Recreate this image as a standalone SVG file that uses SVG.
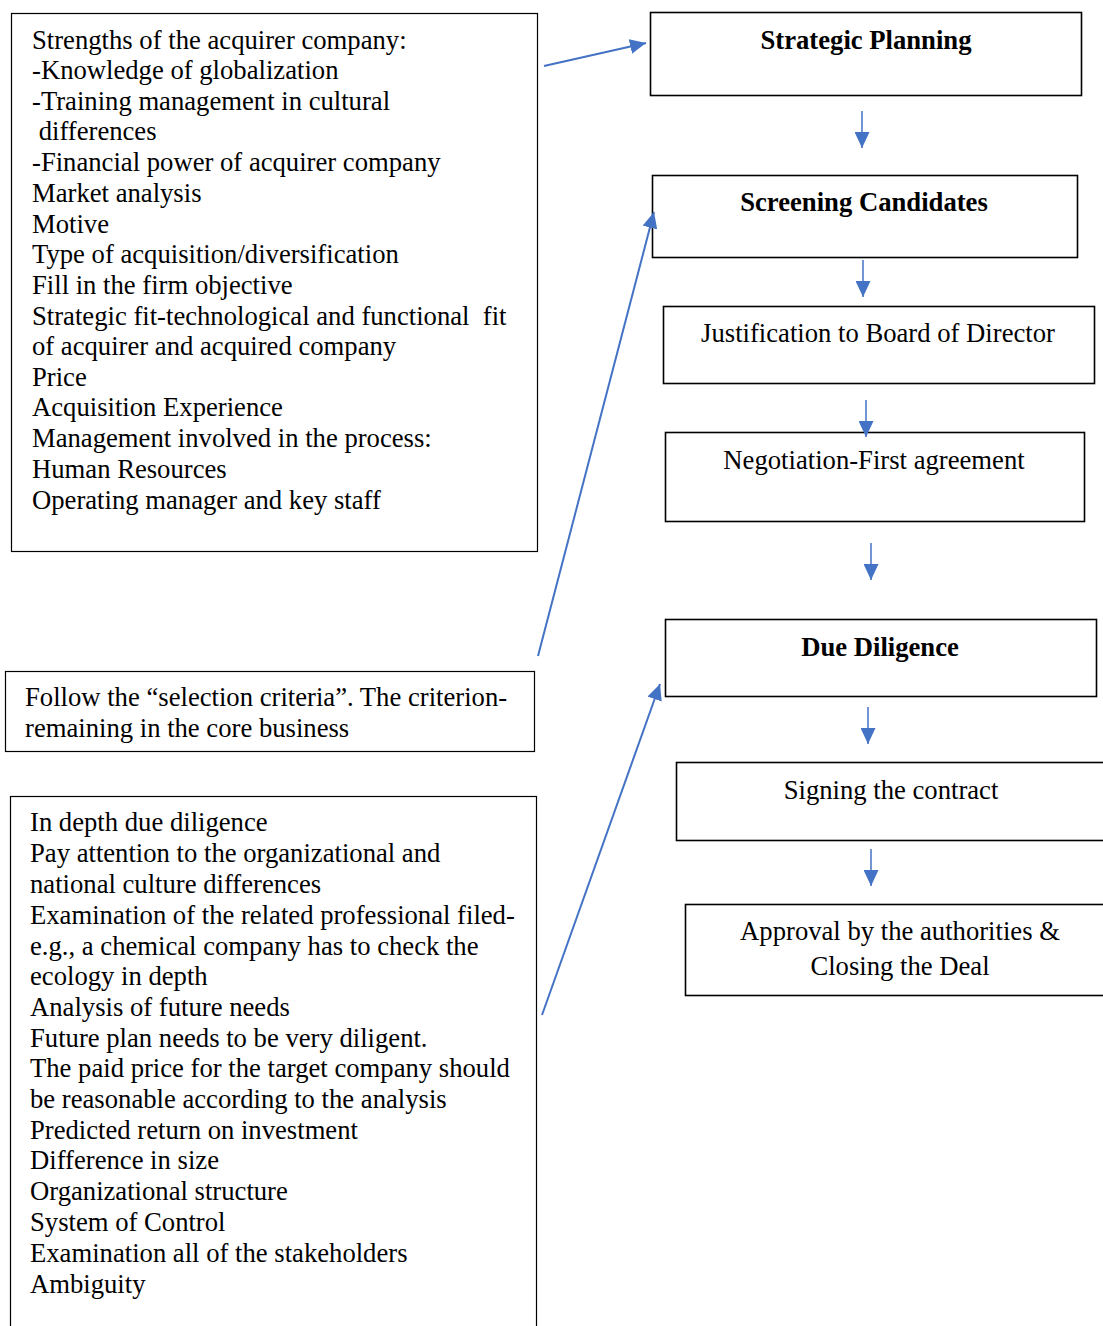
<svg xmlns="http://www.w3.org/2000/svg" width="1103" height="1326" viewBox="0 0 1103 1326">
<style>
.t{font-family:"Liberation Serif","Times New Roman",serif;font-size:26.67px;fill:#000;white-space:pre}
.b{font-weight:bold}
.c{text-anchor:middle}
.bx{fill:#fff;stroke:#000;stroke-width:1.6}
.lb{fill:#fff;stroke:#000;stroke-width:1.2}
.ar{stroke:#4472C4;fill:none;stroke-width:1.5}
.ad{stroke:#4472C4;fill:none;stroke-width:2}
</style>
<defs>
<marker id="ah" markerUnits="userSpaceOnUse" markerWidth="16" markerHeight="15" refX="16" refY="7.5" orient="auto">
<path d="M0,0 L16,7.5 L0,15 z" fill="#4472C4"/>
</marker>
</defs>
<rect width="1103" height="1326" fill="#fff"/>
<g id="strengths">
<rect class="lb" x="11.5" y="13.5" width="526" height="538"/>
<text class="t" x="32" y="49">Strengths of the acquirer company:</text>
<text class="t" x="32" y="79">-Knowledge of globalization</text>
<text class="t" x="32" y="110">-Training management in cultural</text>
<text class="t" x="32" y="140"> differences</text>
<text class="t" x="32" y="171">-Financial power of acquirer company</text>
<text class="t" x="32" y="202">Market analysis</text>
<text class="t" x="32" y="233">Motive</text>
<text class="t" x="32" y="263">Type of acquisition/diversification</text>
<text class="t" x="32" y="294">Fill in the firm objective</text>
<text class="t" x="32" y="325">Strategic fit-technological and functional  fit</text>
<text class="t" x="32" y="355">of acquirer and acquired company</text>
<text class="t" x="32" y="386">Price</text>
<text class="t" x="32" y="416">Acquisition Experience</text>
<text class="t" x="32" y="447">Management involved in the process:</text>
<text class="t" x="32" y="478">Human Resources</text>
<text class="t" x="32" y="509">Operating manager and key staff</text>
</g>
<g id="selection">
<rect class="lb" x="5.5" y="671.5" width="529" height="80"/>
<text class="t" x="25" y="706">Follow the “selection criteria”. The criterion-</text>
<text class="t" x="25" y="737">remaining in the core business</text>
</g>
<g id="duediligence-notes">
<rect class="lb" x="10.5" y="796.5" width="526" height="540"/>
<text class="t" x="30" y="831">In depth due diligence</text>
<text class="t" x="30" y="862">Pay attention to the organizational and</text>
<text class="t" x="30" y="893">national culture differences</text>
<text class="t" x="30" y="924">Examination of the related professional filed-</text>
<text class="t" x="30" y="955">e.g., a chemical company has to check the</text>
<text class="t" x="30" y="985">ecology in depth</text>
<text class="t" x="30" y="1016">Analysis of future needs</text>
<text class="t" x="30" y="1047">Future plan needs to be very diligent.</text>
<text class="t" x="30" y="1077">The paid price for the target company should</text>
<text class="t" x="30" y="1108">be reasonable according to the analysis</text>
<text class="t" x="30" y="1139">Predicted return on investment</text>
<text class="t" x="30" y="1169">Difference in size</text>
<text class="t" x="30" y="1200">Organizational structure</text>
<text class="t" x="30" y="1231">System of Control</text>
<text class="t" x="30" y="1262">Examination all of the stakeholders</text>
<text class="t" x="30" y="1293">Ambiguity</text>
</g>
<g id="strategic-planning">
<rect class="bx" x="650.5" y="12.5" width="431" height="83"/>
<text class="t b c" x="866" y="49">Strategic Planning</text>
</g>
<g id="screening">
<rect class="bx" x="652.5" y="175.5" width="425" height="82"/>
<text class="t b c" x="864" y="211">Screening Candidates</text>
</g>
<g id="justification">
<rect class="bx" x="663.5" y="306.5" width="431" height="77"/>
<text class="t c" x="878" y="342">Justification to Board of Director</text>
</g>
<g id="negotiation">
<rect class="bx" x="665.5" y="432.5" width="419" height="89"/>
<text class="t c" x="874" y="469">Negotiation-First agreement</text>
</g>
<g id="due-diligence">
<rect class="bx" x="665.5" y="619.5" width="431" height="77"/>
<text class="t b c" x="880" y="656">Due Diligence</text>
</g>
<g id="signing">
<rect class="bx" x="676.5" y="762.5" width="440" height="78"/>
<text class="t c" x="891" y="799">Signing the contract</text>
</g>
<g id="approval">
<rect class="bx" x="685.5" y="904.5" width="430" height="91"/>
<text class="t c" x="900" y="940">Approval by the authorities &amp;</text>
<text class="t c" x="900" y="975">Closing the Deal</text>
</g>
<g id="connectors">
<line class="ad" x1="544" y1="66" x2="646" y2="43" marker-end="url(#ah)"/>
<line class="ad" x1="538" y1="656" x2="654" y2="212" marker-end="url(#ah)"/>
<line class="ad" x1="542" y1="1015" x2="660" y2="684" marker-end="url(#ah)"/>
<line class="ar" x1="862" y1="111" x2="862" y2="148" marker-end="url(#ah)"/>
<line class="ar" x1="863" y1="260" x2="863" y2="297" marker-end="url(#ah)"/>
<line class="ar" x1="866" y1="400" x2="866" y2="437" marker-end="url(#ah)"/>
<line class="ar" x1="871" y1="543" x2="871" y2="580" marker-end="url(#ah)"/>
<line class="ar" x1="868" y1="707" x2="868" y2="744" marker-end="url(#ah)"/>
<line class="ar" x1="871" y1="849" x2="871" y2="886" marker-end="url(#ah)"/>
</g>
</svg>
